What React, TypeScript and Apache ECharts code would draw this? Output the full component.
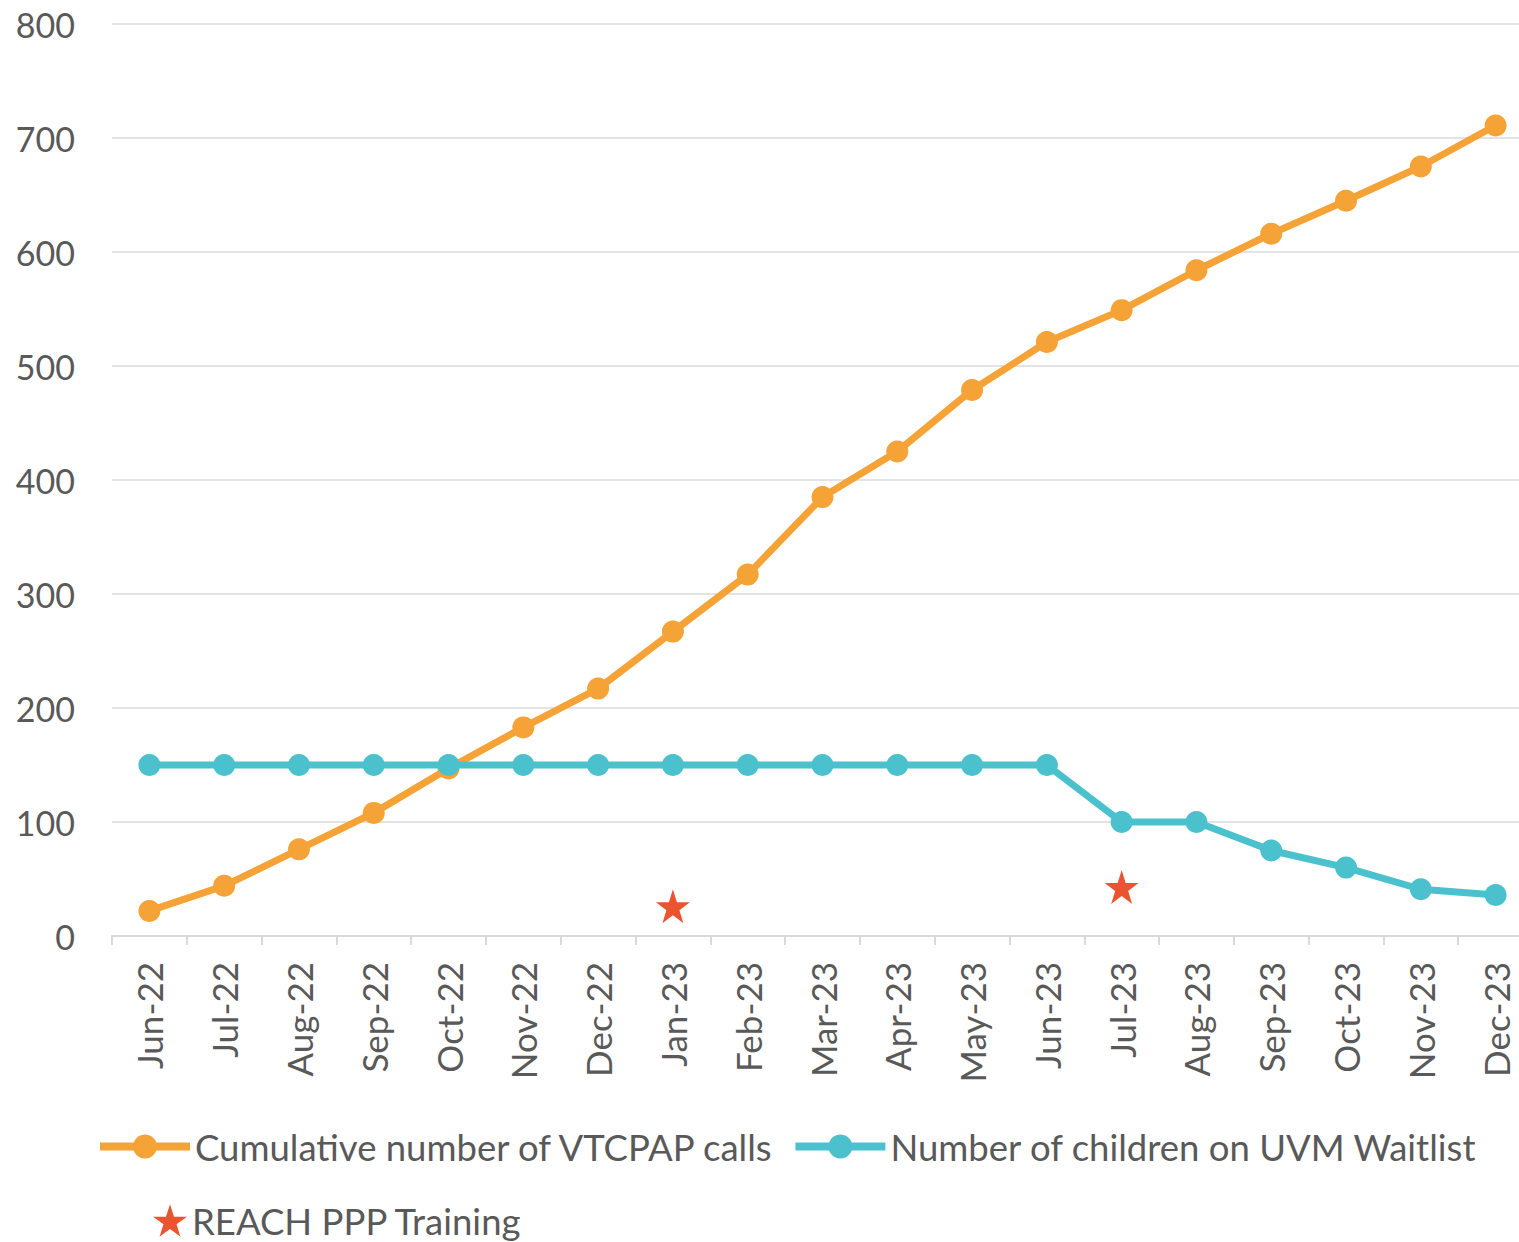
import React, { useEffect, useRef } from "react";
import * as echarts from "echarts";

const categories = [
  "Jun-22", "Jul-22", "Aug-22", "Sep-22", "Oct-22", "Nov-22", "Dec-22",
  "Jan-23", "Feb-23", "Mar-23", "Apr-23", "May-23", "Jun-23", "Jul-23",
  "Aug-23", "Sep-23", "Oct-23", "Nov-23", "Dec-23",
];

const cumulativeCalls = [22, 44, 76, 108, 147, 183, 217, 267, 317, 385, 425, 479, 521, 549, 584, 616, 645, 675, 711];
const waitlist = [150, 150, 150, 150, 150, 150, 150, 150, 150, 150, 150, 150, 150, 100, 100, 75, 60, 41, 36];
const trainingPoints: [string, number][] = [["Jan-23", 26], ["Jul-23", 43]];

const yTicks = { min: 0, max: 800, interval: 100 };

const STAR = "path://M50,0 L61.2,34.5 L97.6,34.5 L68.2,55.9 L79.4,90.5 L50,69.1 L20.6,90.5 L31.8,55.9 L2.4,34.5 L38.8,34.5 Z";

const ORANGE = "#F5A236";
const BLUE = "#4CC1CE";
const RED = "#E8552F";
const TEXT = "#595959";
const FONT = "Lato";

export default function App() {
  const ref = useRef<HTMLDivElement>(null);
  useEffect(() => {
    if (!ref.current) return;
    const chart = echarts.init(ref.current, undefined, { renderer: "svg" });
    chart.setOption({
      animation: false,
      backgroundColor: "#ffffff",
      textStyle: { fontFamily: FONT },
      grid: { left: 112, top: 24, width: 1421, height: 912 },
      xAxis: {
        type: "category",
        data: categories,
        boundaryGap: true,
        axisLine: { lineStyle: { color: "#D9D9D9", width: 2 } },
        axisTick: { show: true, length: 9, lineStyle: { color: "#D9D9D9", width: 2 } },
        axisLabel: { rotate: 90, margin: 26, color: TEXT, fontSize: 35, fontFamily: FONT, interval: 0 },
      },
      yAxis: {
        type: "value",
        min: yTicks.min,
        max: yTicks.max,
        interval: yTicks.interval,
        axisLine: { show: false },
        axisTick: { show: false },
        axisLabel: { margin: 37, color: TEXT, fontSize: 34, fontFamily: FONT },
        splitLine: { lineStyle: { color: "#E3E3E3", width: 2 } },
      },
      legend: [
        {
          data: ["Cumulative number of VTCPAP calls", "Number of children on UVM Waitlist"],
          left: 91,
          top: 1123,
          itemWidth: 90,
          itemHeight: 30,
          itemGap: 16,
          lineStyle: { width: 8 },
          textStyle: { color: TEXT, fontSize: 36.5, fontFamily: FONT },
        },
        {
          data: [{ name: "REACH PPP Training", icon: STAR }],
          left: 148,
          top: 1197,
          itemWidth: 34,
          itemHeight: 34,
          itemStyle: { opacity: 1 },
          textStyle: { color: TEXT, fontSize: 36.5, fontFamily: FONT },
        },
      ],
      series: [
        {
          name: "Cumulative number of VTCPAP calls",
          type: "line",
          data: cumulativeCalls,
          symbol: "circle",
          symbolSize: 22,
          lineStyle: { color: ORANGE, width: 7 },
          itemStyle: { color: ORANGE },
          z: 3,
        },
        {
          name: "Number of children on UVM Waitlist",
          type: "line",
          data: waitlist,
          symbol: "circle",
          symbolSize: 22,
          lineStyle: { color: BLUE, width: 7 },
          itemStyle: { color: BLUE },
          z: 4,
        },
        {
          name: "REACH PPP Training",
          type: "scatter",
          data: trainingPoints,
          symbol: STAR,
          symbolSize: 34,
          itemStyle: { color: RED, opacity: 1 },
          z: 5,
        },
      ],
    });
    return () => chart.dispose();
  }, []);
  return (
    <div style={{ position: "absolute", left: 0, top: 0, width: 1519, height: 1242, overflow: "hidden", background: "#fff" }}>
      <div ref={ref} style={{ width: 1533, height: 1242 }} />
    </div>
  );
}
